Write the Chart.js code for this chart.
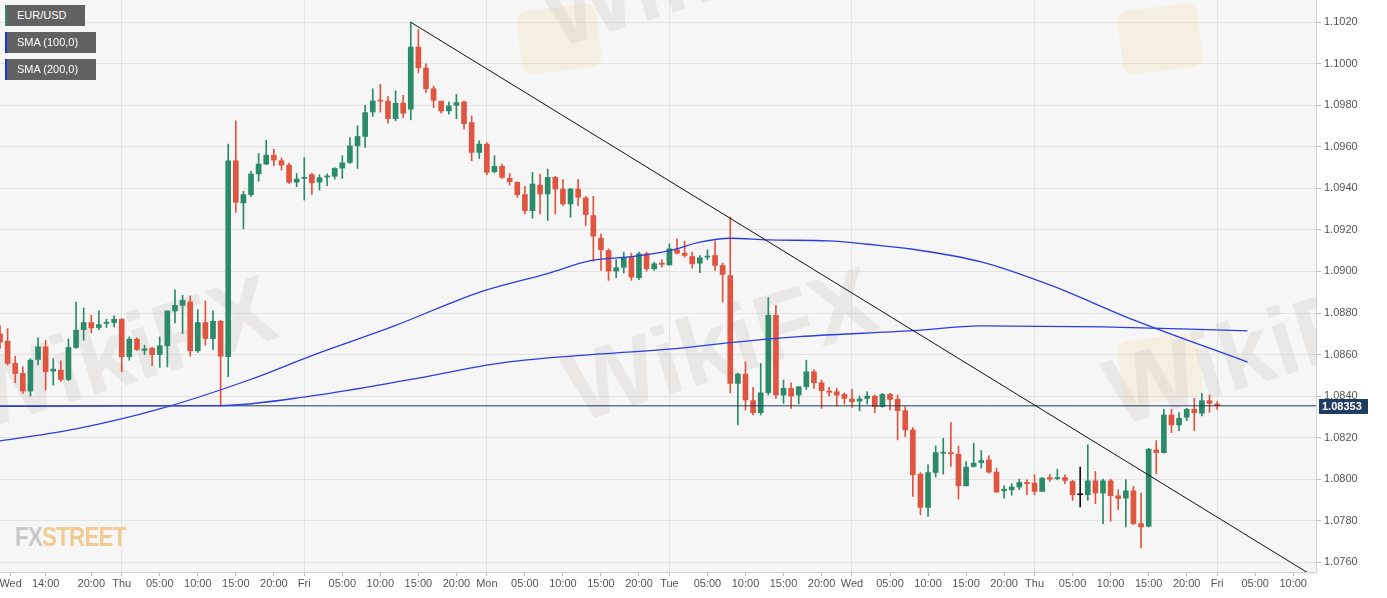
<!DOCTYPE html>
<html>
<head>
<meta charset="utf-8">
<title>EUR/USD</title>
<script src="https://cdn.jsdelivr.net/npm/chart.js@4.4.0/dist/chart.umd.min.js"></script>
<style>
  html, body { margin: 0; padding: 0; background: #fff; }
  #wrap { position: relative; width: 1387px; height: 598px; overflow: hidden; }
  .tag { position: absolute; left: 5px; height: 21px; background: #616161; color: #fff;
         font: 11px "Liberation Sans", Arial, sans-serif; line-height: 21px; padding-left: 10px; box-sizing: border-box; }
  .tag.pair { top: 5px; width: 80px; border-left: 2px solid #2f8a6b; }
  .tag.sma1 { top: 32px; width: 91px; border-left: 2px solid #1733e6; }
  .tag.sma2 { top: 59px; width: 91px; border-left: 2px solid #1733e6; }
  #logo { position: absolute; left: 15px; top: 521px; font: bold 28px "Liberation Sans", Arial, sans-serif;
          letter-spacing: -1px; transform: scaleX(0.8); transform-origin: 0 0; }
  #logo .fx { color: #c8c8c8; }
  #logo .st { color: #f3cb90; }
</style>
</head>
<body>
<div id="wrap">
  <canvas id="chart" width="1387" height="598"></canvas>
  <div class="tag pair">EUR/USD</div>
  <div class="tag sma1">SMA (100,0)</div>
  <div class="tag sma2">SMA (200,0)</div>
  <div id="logo"><span class="fx">FX</span><span class="st">STREET</span></div>
</div>
<script>
// hourly candles, first one is Wed 08:00 (hour 8 counted from Wed 00:00, weekend squeezed out)
var firstHour = 8;
var opens = [
  1.08700,1.08664,1.08557,1.08509,1.08424,1.08576,1.08637,1.08520,1.08525,1.08480,
  1.08634,1.08720,1.08754,1.08730,1.08750,1.08754,1.08770,1.08590,1.08674,1.08620,
  1.08630,1.08600,1.08642,1.08810,1.08837,1.08853,1.08618,1.08754,1.08677,1.08760,
  1.08590,1.09533,1.09330,1.09370,1.09470,1.09517,1.09560,1.09533,1.09512,1.09430,
  1.09448,1.09466,1.09430,1.09455,1.09458,1.09498,1.09525,1.09605,1.09650,1.09768,
  1.09824,1.09820,1.09736,1.09810,1.09781,1.10080,1.09980,1.09880,1.09820,1.09773,
  1.09800,1.09816,1.09717,1.09573,1.09613,1.09480,1.09506,1.09448,1.09429,1.09370,
  1.09293,1.09416,1.09373,1.09453,1.09397,1.09325,1.09397,1.09354,1.09269,1.09160,
  1.09101,1.09002,1.09020,1.09069,1.08970,1.09085,1.09013,1.09040,1.09032,1.09104,
  1.09088,1.09072,1.09040,1.09069,1.09077,1.09029,1.08980,1.08461,1.08506,1.08378,
  1.08320,1.08416,1.08789,1.08405,1.08437,1.08405,1.08445,1.08517,1.08464,1.08424,
  1.08421,1.08408,1.08386,1.08376,1.08389,1.08400,1.08349,1.08408,1.08384,1.08330,
  1.08237,1.08024,1.07864,1.08032,1.08125,1.08128,1.08120,1.07968,1.08061,1.08080,
  1.08093,1.08034,1.07944,1.07949,1.07962,1.07984,1.07981,1.07941,1.08008,1.08003,
  1.08008,1.07989,1.07925,1.07925,1.07992,1.07933,1.07992,1.07920,1.07909,1.07944,
  1.07786,1.07773,1.08141,1.08128,1.08309,1.08261,1.08298,1.08336,1.08317,1.08378,
  1.08362
];
var highs = [
  1.08740,1.08725,1.08592,1.08541,1.08580,1.08680,1.08669,1.08581,1.08570,1.08675,
  1.08853,1.08824,1.08789,1.08810,1.08770,1.08786,1.08773,1.08685,1.08680,1.08645,
  1.08635,1.08685,1.08810,1.08912,1.08885,1.08882,1.08816,1.08858,1.08810,1.08765,
  1.09613,1.09725,1.09386,1.09482,1.09568,1.09632,1.09589,1.09546,1.09522,1.09472,
  1.09549,1.09472,1.09466,1.09470,1.09500,1.09557,1.09645,1.09701,1.09800,1.09880,
  1.09901,1.09842,1.09869,1.09848,1.10200,1.10165,1.10000,1.09893,1.09820,1.09816,
  1.09853,1.09820,1.09749,1.09629,1.09620,1.09557,1.09517,1.09472,1.09432,1.09410,
  1.09477,1.09469,1.09493,1.09458,1.09442,1.09400,1.09442,1.09362,1.09362,1.09181,
  1.09109,1.09056,1.09093,1.09088,1.09093,1.09093,1.09045,1.09056,1.09133,1.09157,
  1.09146,1.09093,1.09077,1.09104,1.09146,1.09040,1.09261,1.08510,1.08565,1.08442,
  1.08557,1.08874,1.08837,1.08477,1.08464,1.08445,1.08573,1.08528,1.08477,1.08442,
  1.08437,1.08416,1.08432,1.08400,1.08421,1.08405,1.08413,1.08413,1.08405,1.08349,
  1.08248,1.08032,1.08069,1.08160,1.08197,1.08272,1.08160,1.08085,1.08173,1.08138,
  1.08112,1.08053,1.07968,1.07978,1.08000,1.07997,1.08021,1.08008,1.08024,1.08048,
  1.08021,1.07994,1.08058,1.08165,1.08037,1.08000,1.08000,1.07949,1.07997,1.07965,
  1.07933,1.08149,1.08186,1.08336,1.08336,1.08320,1.08341,1.08389,1.08413,1.08405,
  1.08373
];
var lows = [
  1.08630,1.08549,1.08464,1.08413,1.08400,1.08550,1.08429,1.08453,1.08470,1.08474,
  1.08629,1.08669,1.08704,1.08720,1.08730,1.08733,1.08517,1.08573,1.08620,1.08600,
  1.08547,1.08538,1.08540,1.08752,1.08701,1.08592,1.08610,1.08645,1.08624,1.08352,
  1.08493,1.09285,1.09205,1.09360,1.09434,1.09514,1.09509,1.09488,1.09424,1.09408,
  1.09344,1.09371,1.09392,1.09413,1.09445,1.09448,1.09520,1.09496,1.09597,1.09746,
  1.09768,1.09714,1.09725,1.09741,1.09730,1.09957,1.09861,1.09789,1.09762,1.09757,
  1.09736,1.09685,1.09533,1.09544,1.09466,1.09474,1.09448,1.09416,1.09357,1.09277,
  1.09256,1.09277,1.09245,1.09277,1.09317,1.09261,1.09317,1.09221,1.09048,1.09005,
  1.08957,1.08970,1.08992,1.08957,1.08960,1.09002,1.09005,1.09021,1.09029,1.09085,
  1.09069,1.09016,1.08994,1.09056,1.09005,1.08853,1.08416,1.08261,1.08333,1.08309,
  1.08309,1.08405,1.08389,1.08365,1.08341,1.08362,1.08432,1.08437,1.08341,1.08400,
  1.08352,1.08362,1.08346,1.08330,1.08362,1.08320,1.08346,1.08333,1.08189,1.08205,
  1.07917,1.07829,1.07821,1.08010,1.08024,1.08061,1.07904,1.07968,1.08058,1.08053,
  1.08029,1.07936,1.07909,1.07923,1.07949,1.07925,1.07925,1.07940,1.07989,1.07997,
  1.07978,1.07898,1.07866,1.07898,1.07882,1.07786,1.07797,1.07853,1.07770,1.07781,
  1.07669,1.07770,1.08026,1.08125,1.08224,1.08234,1.08282,1.08234,1.08304,1.08322,
  1.08336
];
var closes = [
  1.08660,1.08557,1.08509,1.08424,1.08573,1.08637,1.08517,1.08530,1.08480,1.08634,
  1.08717,1.08754,1.08728,1.08744,1.08755,1.08770,1.08589,1.08674,1.08624,1.08627,
  1.08600,1.08642,1.08810,1.08837,1.08861,1.08618,1.08754,1.08677,1.08760,1.08592,
  1.09533,1.09333,1.09370,1.09469,1.09517,1.09560,1.09536,1.09512,1.09429,1.09445,
  1.09453,1.09427,1.09451,1.09458,1.09496,1.09523,1.09605,1.09650,1.09765,1.09821,
  1.09820,1.09736,1.09810,1.09762,1.10080,1.09981,1.09880,1.09824,1.09773,1.09797,
  1.09813,1.09712,1.09573,1.09613,1.09477,1.09506,1.09453,1.09432,1.09370,1.09293,
  1.09421,1.09373,1.09453,1.09397,1.09325,1.09397,1.09357,1.09274,1.09170,1.09105,
  1.09002,1.09018,1.09066,1.08973,1.09085,1.09013,1.09037,1.09034,1.09109,1.09088,
  1.09077,1.09037,1.09066,1.09072,1.09029,1.08986,1.08461,1.08506,1.08381,1.08320,
  1.08416,1.08789,1.08405,1.08437,1.08400,1.08445,1.08517,1.08464,1.08426,1.08418,
  1.08405,1.08389,1.08373,1.08386,1.08400,1.08349,1.08408,1.08384,1.08330,1.08237,
  1.08021,1.07864,1.08032,1.08128,1.08128,1.08122,1.07968,1.08058,1.08077,1.08090,
  1.08034,1.07938,1.07952,1.07962,1.07984,1.07978,1.07941,1.08005,1.08000,1.08008,
  1.07994,1.07925,1.07925,1.07992,1.07933,1.07992,1.07920,1.07907,1.07944,1.07786,
  1.07770,1.08144,1.08128,1.08309,1.08261,1.08293,1.08336,1.08320,1.08378,1.08365,
  1.08353
];

// moving averages at a few hours
var sma100Hours = [8, 18, 29, 41, 49, 60, 68.5, 72, 80, 85.6, 91, 96, 100, 104, 109, 117, 122, 128, 137, 146, 157, 172];
var sma100 = [1.08184, 1.08242, 1.08338, 1.08481, 1.08595, 1.08740, 1.08866, 1.08911, 1.08990, 1.09052, 1.09071, 1.09100, 1.09141, 1.09160, 1.09152, 1.09147, 1.09131, 1.09107, 1.09046, 1.08935, 1.08767, 1.08564];
var sma200Hours = [8, 37, 49, 62, 74, 87, 96, 104, 113, 128, 137, 153, 172];
var sma200 = [1.08350, 1.08354, 1.08401, 1.08480, 1.08560, 1.08603, 1.08626, 1.08657, 1.08686, 1.08715, 1.08738, 1.08733, 1.08714];

// trend line drawn from the Fri 14:00 high
var trendHours = [62, 181];
var trendValues = [1.10200, 1.07525];
var lastPrice = 1.08353;

var xTickHours = [9.4, 14, 20, 24, 29, 34, 39, 44, 48, 53, 58, 63, 68, 72, 77, 82, 87, 92, 96, 101, 106, 111, 116,
  120, 125, 130, 135, 140, 144, 149, 154, 159, 164, 168, 173, 178];
var xTickLabels = ['Wed', '14:00', '20:00', 'Thu', '05:00', '10:00', '15:00', '20:00', 'Fri', '05:00', '10:00', '15:00', '20:00',
  'Mon', '05:00', '10:00', '15:00', '20:00', 'Tue', '05:00', '10:00', '15:00', '20:00',
  'Wed', '05:00', '10:00', '15:00', '20:00', 'Thu', '05:00', '10:00', '15:00', '20:00', 'Fri', '05:00', '10:00'];
var dayHours = [24, 48, 72, 96, 120, 144, 168];
var yTicks = [1.0760, 1.0780, 1.0800, 1.0820, 1.0840, 1.0860, 1.0880, 1.0900, 1.0920, 1.0940, 1.0960, 1.0980, 1.1000, 1.1020];

// faint watermarks: text at [hour, price], badges at [hour, price]
var markHours = [24, 103, 100, 174];
var markPrices = [1.0858, 1.0862, 1.1042, 1.0860];
var badgeHours = [81.5, 160.5, 160.5];
var badgePrices = [1.1012, 1.1012, 1.0853];

var UP = '#2b8a68', DOWN = '#e0553f', FLAT = '#111111';

function candleColor(i) {
  if (closes[i] > opens[i]) return UP;
  if (closes[i] < opens[i]) return DOWN;
  return FLAT;
}

var colors = [], bodies = [], wicks = [];
for (var i = 0; i < opens.length; i++) {
  colors.push(candleColor(i));
  bodies.push({ x: firstHour + i, y: [opens[i], closes[i]] });
  wicks.push({ x: firstHour + i, y: [lows[i], highs[i]] });
}

function pairs(xs, ys) {
  return xs.map(function (x, k) { return { x: x, y: ys[k] }; });
}

Chart.defaults.font.family = "'Liberation Sans', Arial, sans-serif";
Chart.defaults.font.size = 11;
Chart.defaults.color = '#555';

var backdrop = {
  id: 'backdrop',
  beforeDraw: function (chart) {
    var ctx = chart.ctx, a = chart.chartArea;
    ctx.save();
    ctx.fillStyle = '#ffffff';
    ctx.fillRect(0, 0, chart.width, chart.height);
    ctx.fillStyle = '#f6f6f6';
    ctx.fillRect(a.left, a.top, a.right - a.left, a.bottom - a.top);
    ctx.restore();
  },
  beforeDatasetsDraw: function (chart) {
    var ctx = chart.ctx, a = chart.chartArea, sx = chart.scales.x, sy = chart.scales.y;
    ctx.save();
    ctx.beginPath();
    ctx.rect(a.left, a.top, a.right - a.left, a.bottom - a.top);
    ctx.clip();
    ctx.fillStyle = 'rgba(240, 205, 120, 0.16)';
    for (var b = 0; b < badgeHours.length; b++) {
      var bx = sx.getPixelForValue(badgeHours[b]), by = sy.getPixelForValue(badgePrices[b]);
      ctx.save();
      ctx.translate(bx, by);
      ctx.rotate(-0.12);
      ctx.beginPath();
      ctx.roundRect(-40, -32, 80, 64, 10);
      ctx.fill();
      ctx.restore();
    }
    ctx.font = "bold 96px 'Liberation Sans', Arial, sans-serif";
    ctx.fillStyle = 'rgba(190, 180, 176, 0.2)';
    ctx.textAlign = 'center';
    ctx.textBaseline = 'middle';
    for (var k = 0; k < markHours.length; k++) {
      ctx.save();
      ctx.translate(sx.getPixelForValue(markHours[k]), sy.getPixelForValue(markPrices[k]));
      ctx.rotate(-0.3);
      ctx.fillText('WikiFX', 0, 0);
      ctx.restore();
    }
    ctx.restore();
  }
};

var priceTag = {
  id: 'priceTag',
  afterDraw: function (chart) {
    var ctx = chart.ctx, a = chart.chartArea;
    var y = Math.round(chart.scales.y.getPixelForValue(lastPrice));
    ctx.save();
    ctx.fillStyle = '#1f3c62';
    ctx.fillRect(a.right + 3, y - 7, 49, 15);
    ctx.fillStyle = '#ffffff';
    ctx.font = "bold 11px 'Liberation Sans', Arial, sans-serif";
    ctx.textBaseline = 'middle';
    ctx.fillText(lastPrice.toFixed(5), a.right + 6, y + 1);
    ctx.restore();
  }
};

var ctx = document.getElementById('chart').getContext('2d');
var chart = new Chart(ctx, {
  type: 'bar',
  data: {
    datasets: [
      {
        type: 'line', label: 'SMA (100,0)', data: pairs(sma100Hours, sma100),
        borderColor: '#2a3de3', borderWidth: 1.3, pointRadius: 0, cubicInterpolationMode: 'monotone', order: 1
      },
      {
        type: 'line', label: 'SMA (200,0)', data: pairs(sma200Hours, sma200),
        borderColor: '#2a3de3', borderWidth: 1.3, pointRadius: 0, cubicInterpolationMode: 'monotone', order: 1
      },
      {
        type: 'line', label: 'last', data: [{ x: 0, y: lastPrice }, { x: 200, y: lastPrice }],
        borderColor: '#1d3a5c', borderWidth: 1, pointRadius: 0, order: 2
      },
      {
        type: 'line', label: 'trend', data: pairs(trendHours, trendValues),
        borderColor: '#111', borderWidth: 1, pointRadius: 0, order: 0
      },
      {
        label: 'wick', data: wicks, backgroundColor: colors, barThickness: 1,
        grouped: false, minBarLength: 1, order: 4
      },
      {
        label: 'EUR/USD', data: bodies, backgroundColor: colors, barThickness: 5,
        grouped: false, minBarLength: 1, order: 3
      }
    ]
  },
  options: {
    responsive: false,
    animation: false,
    devicePixelRatio: 1,
    layout: { padding: 0 },
    plugins: { legend: { display: false }, tooltip: { enabled: false } },
    scales: {
      x: {
        type: 'linear', min: firstHour, max: 181, offset: false,
        afterFit: function (s) { s.height = 26; s.paddingLeft = 0; s.paddingRight = 0; },
        afterBuildTicks: function (s) { s.ticks = xTickHours.map(function (v) { return { value: v }; }); },
        ticks: {
          autoSkip: false, maxRotation: 0, padding: 1,
          callback: function (v, idx) { return xTickLabels[idx]; }
        },
        grid: {
          offset: false, tickLength: 4, tickColor: '#bdbdbd',
          color: function (c) { return c.tick && dayHours.indexOf(c.tick.value) >= 0 ? '#e3e3e3' : 'rgba(0,0,0,0)'; }
        },
        border: { color: '#d0d0d0' }
      },
      y: {
        position: 'right', min: 1.07553, max: 1.10307,
        afterFit: function (s) { s.width = 71; s.paddingTop = 0; s.paddingBottom = 0; },
        afterBuildTicks: function (s) { s.ticks = yTicks.map(function (v) { return { value: v }; }); },
        ticks: { padding: 3, callback: function (v) { return v.toFixed(4); } },
        grid: { color: '#e3e3e3', tickLength: 5, tickColor: '#bdbdbd' },
        border: { color: '#d0d0d0' }
      }
    }
  },
  plugins: [backdrop, priceTag]
});
</script>
</body>
</html>
